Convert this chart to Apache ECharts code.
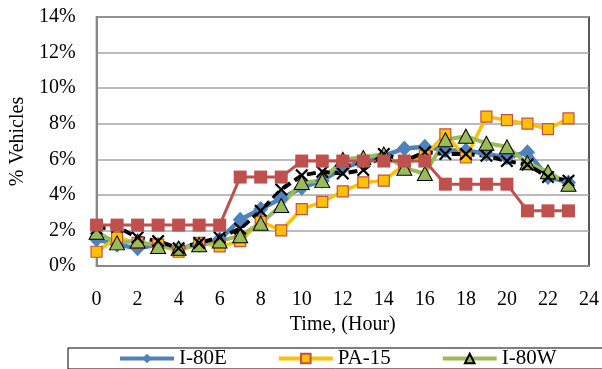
<!DOCTYPE html>
<html>
<head>
<meta charset="utf-8">
<script src="https://cdn.jsdelivr.net/npm/echarts@6/dist/echarts.min.js"></script>
<style>html,body{margin:0;padding:0;background:#fff}#c{width:602px;height:369px}</style>
</head>
<body>
<div id="c"></div>
<script>
const hours = [0,1,2,3,4,5,6,7,8,9,10,11,12,13,14,15,16,17,18,19,20,21,22,23];
const i80e = [1.5,1.2,1.0,1.2,1.0,1.2,1.5,2.6,3.2,3.8,4.4,4.8,5.5,5.9,6.2,6.6,6.7,6.5,6.5,6.3,6.1,6.4,5.0,4.7];
const pa15 = [0.8,1.6,1.3,1.2,0.8,1.3,1.1,1.4,2.5,2.0,3.2,3.6,4.2,4.7,4.8,5.7,6.2,7.4,6.1,8.4,8.2,8.0,7.7,8.3];
const i80w = [1.9,1.3,1.4,1.1,1.0,1.2,1.4,1.7,2.4,3.4,4.7,4.8,6.0,6.1,6.3,5.5,5.2,7.1,7.3,6.9,6.7,5.8,5.3,4.6];
const series4 = [2.3,2.3,2.3,2.3,2.3,2.3,2.3,5.0,5.0,5.0,5.9,5.9,5.9,5.9,5.9,5.9,5.9,4.6,4.6,4.6,4.6,3.1,3.1,3.1];
const series5 = [2.1,2.2,1.6,1.4,1.0,1.3,1.6,2.1,3.1,4.3,5.1,5.3,5.2,5.4,6.3,5.9,6.4,6.3,6.3,6.2,5.9,5.7,5.0,4.8];
const xTicks = {min:0, max:24, interval:2};
const yTicks = {min:0, max:14, interval:2};

const pair = arr => hours.map((h,i)=>[h, arr[i]]);
const font = 'Liberation Serif';
const xPath = 'path://M0,1.2 L1.2,0 L5,3.8 L8.8,0 L10,1.2 L6.2,5 L10,8.8 L8.8,10 L5,6.2 L1.2,10 L0,8.8 L3.8,5 Z';

const chart = echarts.init(document.getElementById('c'), null, {renderer:'canvas'});
chart.setOption({
  animation:false,
  backgroundColor:'#fff',
  grid:{left:79, right:13, top:17, bottom:103, show:true, borderColor:'#222', borderWidth:1.5},
  legend:{
    data:['I-80E','PA-15','I-80W'],
    top:348, left:68, width:531,
    itemWidth:54, itemHeight:12, itemGap:50,
    padding:[0,47,0,50],
    borderColor:'#000', borderWidth:1,
    lineStyle:{width:4},
    textStyle:{fontFamily:font, fontSize:21, color:'#000'}
  },
  xAxis:{
    type:'value', min:xTicks.min, max:xTicks.max, interval:xTicks.interval,
    name:'Time, (Hour)', nameLocation:'middle', nameGap:44,
    nameTextStyle:{fontFamily:font, fontSize:20, color:'#000'},
    axisLine:{show:true, lineStyle:{color:'#888', width:2}},
    axisTick:{show:false},
    splitLine:{show:false},
    axisLabel:{fontFamily:font, fontSize:20, color:'#000', margin:24}
  },
  yAxis:{
    type:'value', min:yTicks.min, max:yTicks.max, interval:yTicks.interval,
    name:'% Vehicles', nameLocation:'middle', nameGap:52, nameRotate:90,
    nameTextStyle:{fontFamily:font, fontSize:20, color:'#000'},
    axisLine:{show:true, lineStyle:{color:'#888', width:2}},
    axisTick:{show:false},
    splitLine:{show:true, lineStyle:{color:'#A6A6A6', width:1.5}},
    axisLabel:{fontFamily:font, fontSize:20, color:'#000', margin:21, formatter:'{value}%'}
  },
  series:[
    {name:'I-80E', type:'line', data:pair(i80e), symbol:'diamond', symbolSize:[15,16],
     lineStyle:{color:'#4F81BD', width:4.5}, itemStyle:{color:'#4F81BD'}},
    {name:'PA-15', type:'line', data:pair(pa15), symbol:'rect', symbolSize:11,
     lineStyle:{color:'#FFC000', width:3.5}, itemStyle:{color:'#FFC000', borderColor:'#C0504D', borderWidth:1.2}},
    {name:'I-80W', type:'line', data:pair(i80w), symbol:'triangle', symbolSize:[15,14],
     lineStyle:{color:'#9BBB59', width:4}, itemStyle:{color:'#9BBB59', borderColor:'#000', borderWidth:1}},
    {name:'Series 5', type:'line', data:pair(series5), symbol:xPath, symbolSize:13,
     lineStyle:{color:'#000', width:4, type:[9,5]}, itemStyle:{color:'#000'}},
    {name:'Series 4', type:'line', data:pair(series4), symbol:'rect', symbolSize:13,
     lineStyle:{color:'#C0504D', width:3}, itemStyle:{color:'#C0504D'}}
  ]
});
</script>
</body>
</html>
